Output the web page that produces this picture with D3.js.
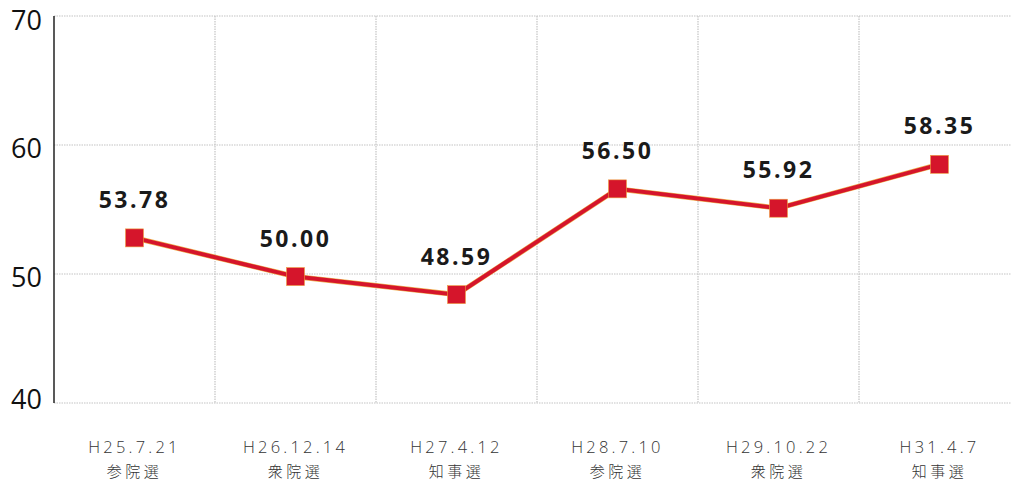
<!DOCTYPE html>
<html>
<head>
<meta charset="utf-8">
<script src="https://cdn.jsdelivr.net/npm/d3@7"></script>
<style>
body { margin: 0; background: #fff; }
</style>
</head>
<body>
<div id="chart"></div>
<script>
// categories (date + election type)
var dates = ["H25.7.21", "H26.12.14", "H27.4.12", "H28.7.10", "H29.10.22", "H31.4.7"];
var kinds = ["参院選", "衆院選", "知事選", "参院選", "衆院選", "知事選"];
// values as plotted in the picture
var values = [52.8, 49.8, 48.4, 56.6, 55.1, 58.5];
// printed labels
var labels = ["53.78", "50.00", "48.59", "56.50", "55.92", "58.35"];
var yTicks = [40, 50, 60, 70];

var W = 1011, H = 480;
var mLeft = 54, mTop = 16, mBottom = 403;

var svg = d3.select("#chart").append("svg")
  .attr("width", W)
  .attr("height", H);

var x = d3.scaleBand().domain(dates).range([mLeft, mLeft + 6 * 161]).padding(0);
var y = d3.scaleLinear().domain([40, 70]).range([mBottom, mTop]);

// horizontal grid
svg.append("g").selectAll("line")
  .data(yTicks)
  .enter().append("line")
  .attr("x1", mLeft).attr("x2", W)
  .attr("y1", function(d) { return y(d); })
  .attr("y2", function(d) { return y(d); })
  .style("stroke", "#c4c4c4")
  .style("stroke-width", 1.2)
  .style("stroke-dasharray", "1.5,1");

// vertical grid (category boundaries)
svg.append("g").selectAll("line")
  .data(dates.slice(1))
  .enter().append("line")
  .attr("x1", function(d) { return x(d); })
  .attr("x2", function(d) { return x(d); })
  .attr("y1", mTop).attr("y2", mBottom)
  .style("stroke", "#c4c4c4")
  .style("stroke-width", 1.2)
  .style("stroke-dasharray", "1.5,1");

// y axis line
svg.append("line")
  .attr("x1", mLeft).attr("x2", mLeft)
  .attr("y1", mTop).attr("y2", mBottom)
  .style("stroke", "#222")
  .style("stroke-width", 1.5);

// y tick labels
svg.append("g").selectAll("text")
  .data(yTicks)
  .enter().append("text")
  .attr("x", 42)
  .attr("y", function(d) { return d == 40 ? y(d) + 6 : (d == 70 ? y(d) + 14 : y(d) + 13); })
  .attr("text-anchor", "end")
  .style("font-family", "'Open Sans', 'Noto Sans', sans-serif")
  .style("font-size", "27px")
  .style("fill", "#111")
  .text(function(d) { return d; });

// x labels
var xl = svg.append("g").selectAll("g")
  .data(dates)
  .enter().append("g")
  .attr("transform", function(d) { return "translate(" + (x(d) + x.bandwidth() / 2) + ",0)"; });

xl.append("text")
  .attr("y", 453)
  .attr("text-anchor", "middle")
  .style("font-family", "'Open Sans', 'Noto Sans', sans-serif")
  .style("font-weight", 300)
  .style("font-size", "16.5px")
  .style("letter-spacing", "3.2px")
  .style("fill", "#333")
  .text(function(d) { return d; });

xl.append("text")
  .attr("y", 477)
  .attr("text-anchor", "middle")
  .style("font-family", "'Noto Sans CJK JP', sans-serif")
  .style("font-weight", 300)
  .style("font-size", "15px")
  .style("letter-spacing", "3.5px")
  .style("fill", "#333")
  .text(function(d, i) { return kinds[i]; });

// line
var line = d3.line()
  .x(function(d, i) { return x(dates[i]) + x.bandwidth() / 2; })
  .y(function(d) { return y(d); });

svg.append("path")
  .datum(values)
  .attr("d", line)
  .style("fill", "none")
  .style("stroke", "#eeb050")
  .style("stroke-width", 5.2);

svg.append("path")
  .datum(values)
  .attr("d", line)
  .style("fill", "none")
  .style("stroke", "#d5152b")
  .style("stroke-width", 4);

// markers
svg.append("g").selectAll("rect")
  .data(values)
  .enter().append("rect")
  .attr("x", function(d, i) { return x(dates[i]) + x.bandwidth() / 2 - 9; })
  .attr("y", function(d) { return y(d) - 9; })
  .attr("width", 18)
  .attr("height", 18)
  .style("fill", "#d5152b")
  .style("stroke", "#eea040")
  .style("stroke-width", 0.6);

// value labels
svg.append("g").selectAll("text")
  .data(values)
  .enter().append("text")
  .attr("x", function(d, i) { return x(dates[i]) + x.bandwidth() / 2; })
  .attr("y", function(d) { return y(d) - 30; })
  .attr("text-anchor", "middle")
  .style("font-family", "'Open Sans', 'Noto Sans', sans-serif")
  .style("font-weight", 700)
  .style("font-size", "23px")
  .style("letter-spacing", "2.5px")
  .style("fill", "#1a1a1a")
  .text(function(d, i) { return labels[i]; });
</script>
</body>
</html>
